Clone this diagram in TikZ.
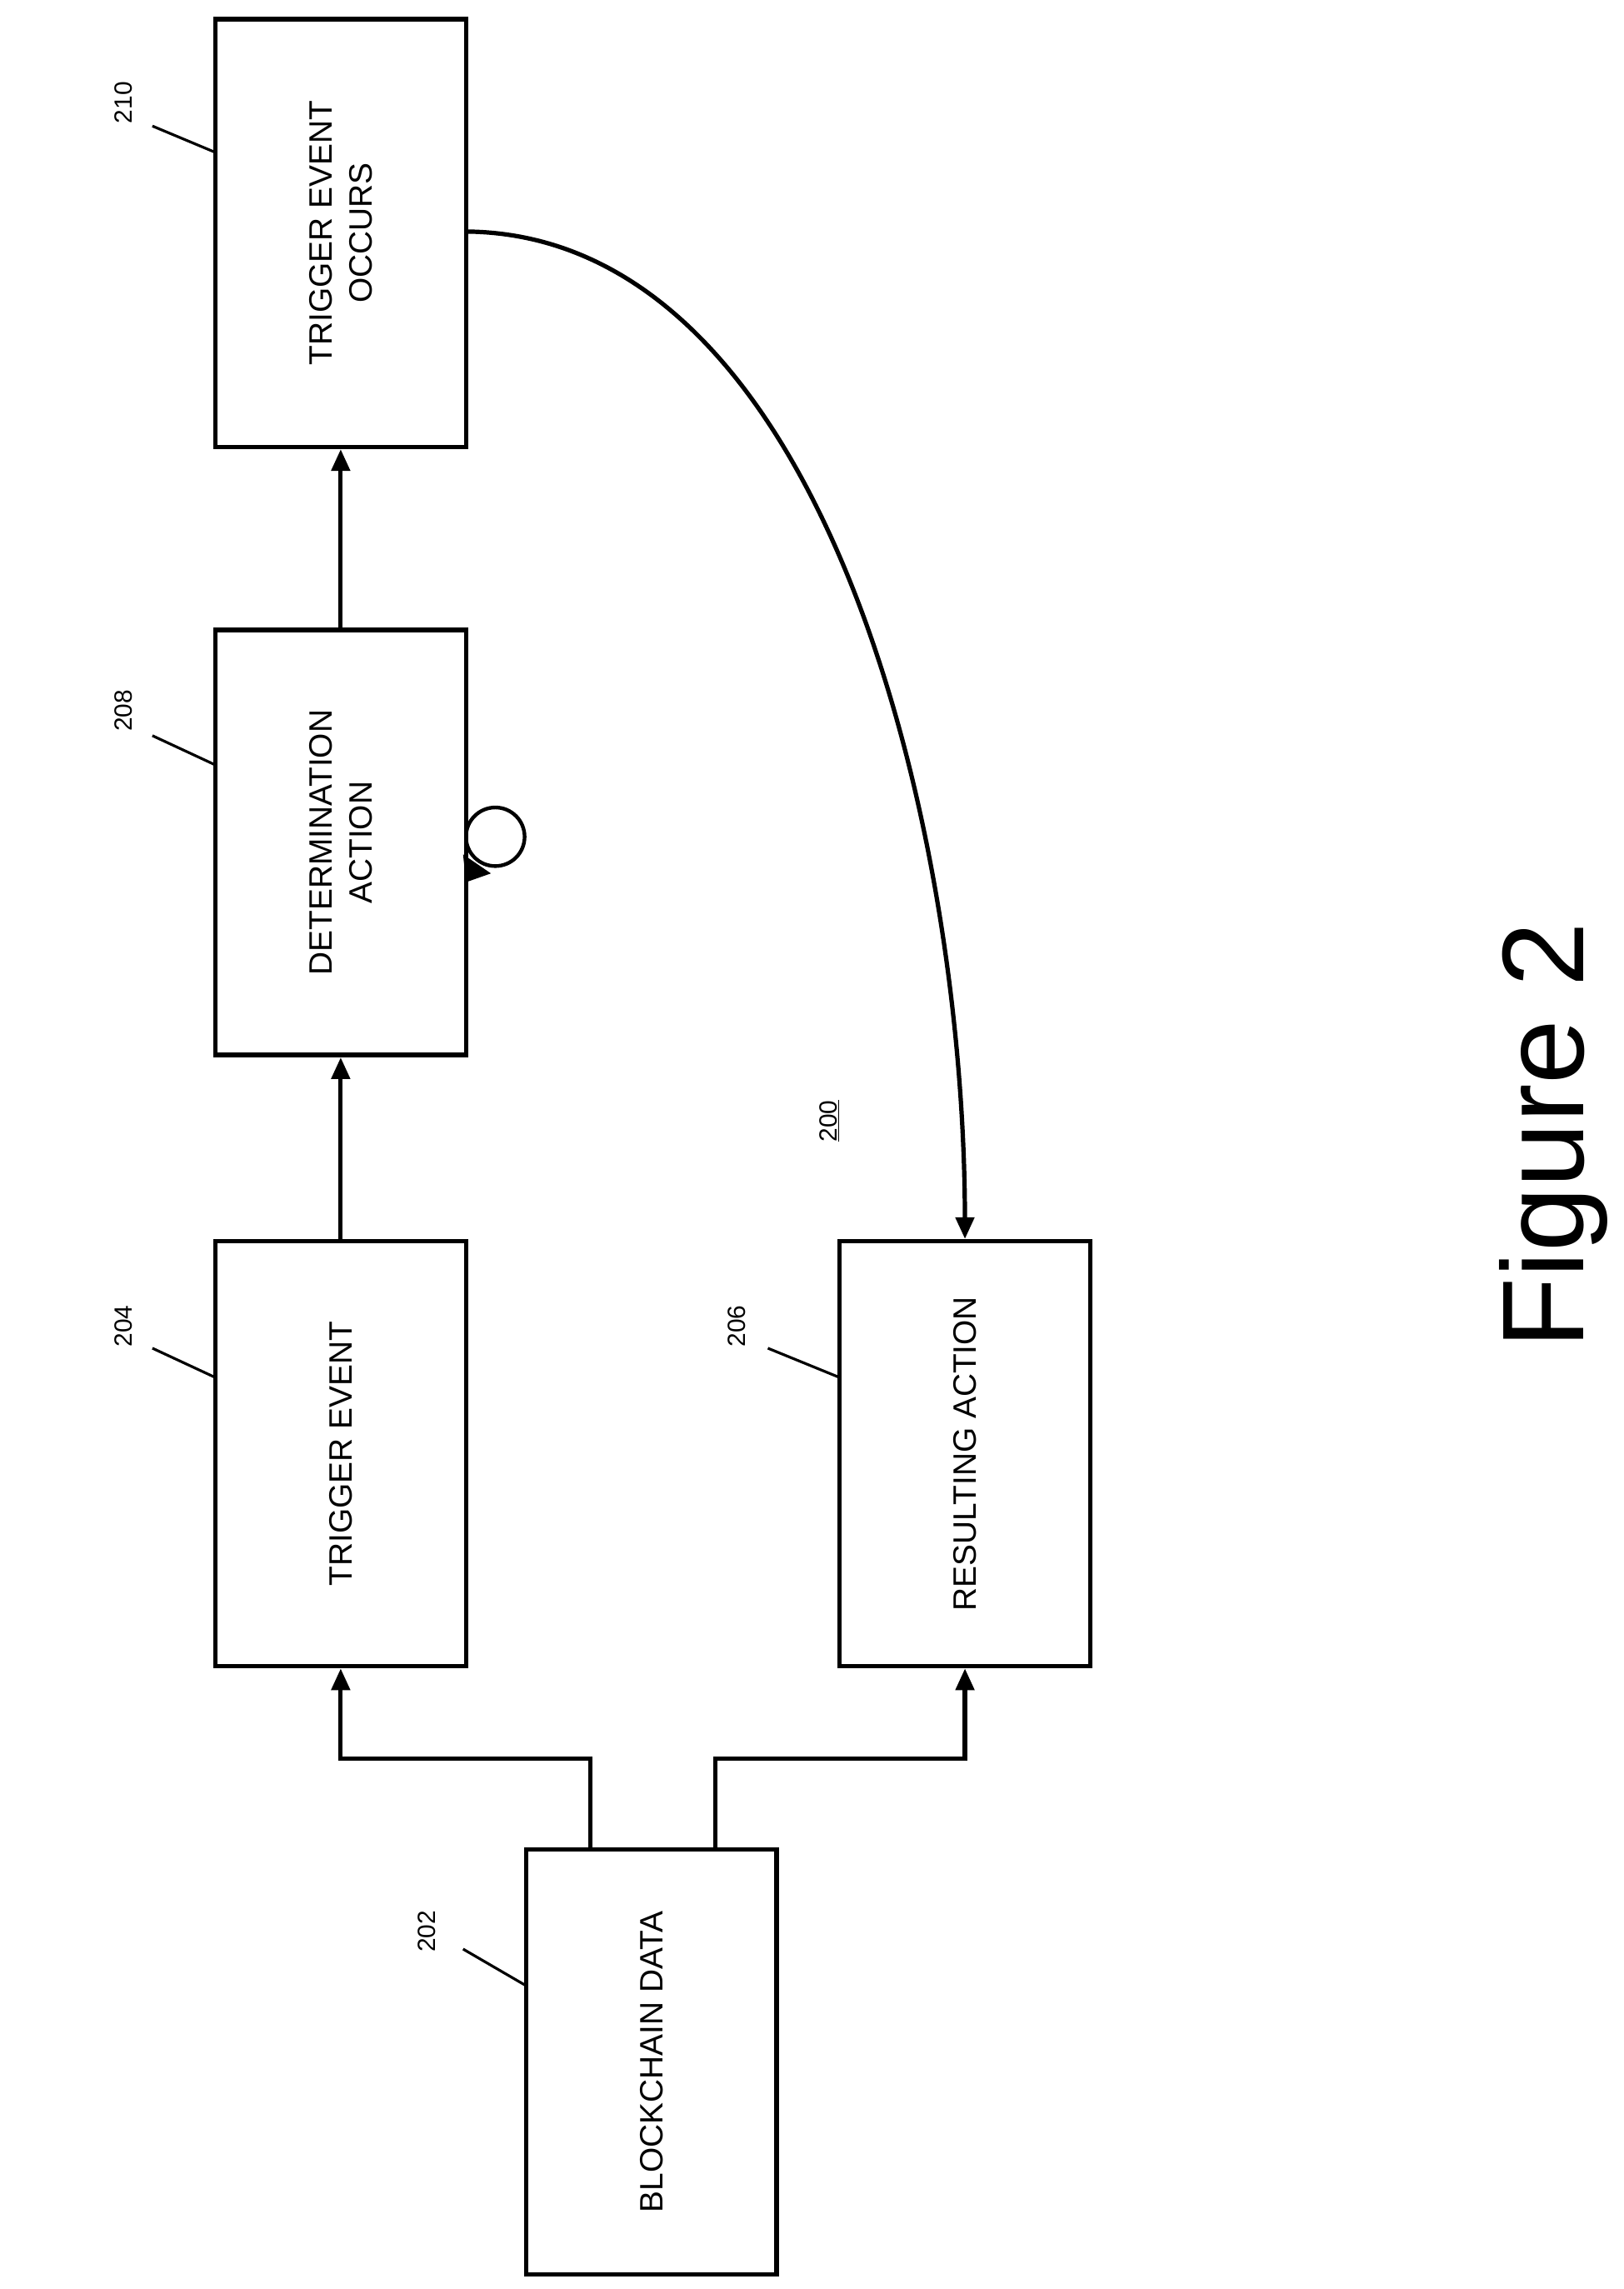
\documentclass[tikz,border=0pt]{standalone}
\usepackage{fontspec}
\setmainfont{Liberation Sans}
\usetikzlibrary{arrows.meta}
\begin{document}
\begin{tikzpicture}[x=1.759bp,y=-1.759bp,
 box/.style={draw,line width=5.5bp,inner sep=0},
 lbl/.style={rotate=90,align=center,font=\fontsize{39}{48}\selectfont},
 num/.style={rotate=90,font=\fontsize{30}{34}\selectfont},
 ld/.style={line width=3.2bp},
 ar/.style={line width=5.2bp,-{Triangle[length=26bp,width=22bp]}}]
\useasboundingbox (0,0) rectangle (1108,1562);
\node[box,minimum width=171*1.759bp,minimum height=292*1.759bp] (b210) at (232.5,159) {};
\node[box,minimum width=171*1.759bp,minimum height=290*1.759bp] (b208) at (232.5,575) {};
\node[box,minimum width=171*1.759bp,minimum height=290*1.759bp] (b204) at (232.5,992) {};
\node[box,minimum width=171*1.759bp,minimum height=290*1.759bp] (b206) at (658.5,992) {};
\node[box,minimum width=171*1.759bp,minimum height=290*1.759bp] (b202) at (444.5,1407) {};
\node[lbl] (t210) at (b210) {TRIGGER EVENT\\OCCURS};
\node[lbl] (t208) at (b208) {DETERMINATION\\ACTION};
\node[lbl] (t204) at (b204) {TRIGGER EVENT};
\node[lbl] (t206) at (b206) {RESULTING ACTION};
\node[lbl] (t202) at (b202) {BLOCKCHAIN DATA};
\draw[ar] (b204.north) -- (b208.south);
\draw[ar] (b208.north) -- (b210.south);
\coordinate (s1) at (403,1262);
\coordinate (s2) at (488,1262);
\draw[ar] (s1) |- (318,1200) -| (b204.south);
\draw[ar] (s2) |- (573,1200) -| (b206.south);
\coordinate (c0) at (318,158);
\draw[ar] (c0) .. controls (560,160) and (658,560) .. (b206.north);
\draw[line width=4.4bp] (338,571) circle[radius=20];
\fill (316,583) -- (335,596) -- (318,602) -- cycle;
\node[num] (n210) at (84,70) {210};
\draw[ld] (104,86) -- (147,104);
\node[num] (n208) at (84,485) {208};
\draw[ld] (104,502) -- (147,522);
\node[num] (n204) at (84,905) {204};
\draw[ld] (104,920) -- (147,940);
\node[num] (n206) at (503,905) {206};
\draw[ld] (524,920) -- (573,940);
\node[num] (n202) at (291,1318) {202};
\draw[ld] (316,1330) -- (359,1355);
\node[num] (n200) at (566,765) {\underline{200}};
\node[rotate=90,font=\fontsize{140}{150}\selectfont] (fig) at (1060,775) {Figure 2};
\end{tikzpicture}
\end{document}
